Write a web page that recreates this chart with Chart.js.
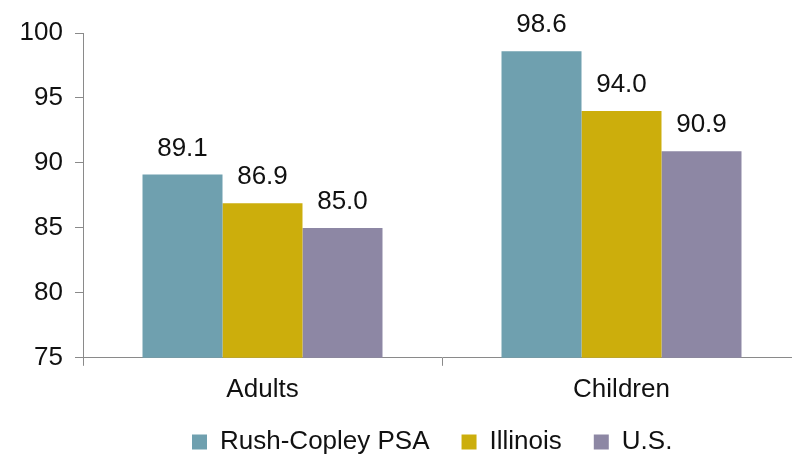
<!DOCTYPE html>
<html>
<head>
<meta charset="utf-8">
<script src="https://cdn.jsdelivr.net/npm/chart.js@4.4.0/dist/chart.umd.min.js"></script>
<style>
  html, body { margin: 0; padding: 0; background: #fff; overflow: hidden; }
  #wrap { position: relative; width: 810px; height: 455px; }
</style>
</head>
<body>
<div id="wrap"><canvas id="c"></canvas></div>
<script>
const categories = ['Adults', 'Children'];
const seriesNames = ['Rush-Copley PSA', 'Illinois', 'U.S.'];
const rushCopley = [89.1, 98.6];
const illinois = [86.9, 94.0];
const us = [85.0, 90.9];
const yTicks = [75, 80, 85, 90, 95, 100];

const colors = ['#6FA0AF', '#CCAE0C', '#8D87A4'];
const FONT = "'Liberation Sans', Arial, sans-serif";
const FS = 26;

const valueLabels = {
  id: 'valueLabels',
  afterDatasetsDraw(chart) {
    const ctx = chart.ctx;
    ctx.save();
    ctx.font = FS + 'px ' + FONT;
    ctx.fillStyle = '#111';
    ctx.textAlign = 'center';
    ctx.textBaseline = 'middle';
    chart.data.datasets.forEach((ds, i) => {
      const meta = chart.getDatasetMeta(i);
      meta.data.forEach((bar, j) => {
        ctx.fillText(ds.data[j].toFixed(1), bar.x, bar.y - 26);
      });
    });
    ctx.restore();
  }
};

const legendShift = {
  id: 'legendShift',
  afterLayout(chart) {
    const lg = chart.legend;
    if (!lg) return;
    const pad = lg.options.labels.padding;
    const w = lg.right - lg.left;
    lg.left = 192 - pad;
    lg.right = lg.left + w;
    lg.top -= 16;
    lg.bottom -= 16;
  }
};

new Chart(document.getElementById('c'), {
  type: 'bar',
  data: {
    labels: categories,
    datasets: [
      { label: seriesNames[0], data: rushCopley, backgroundColor: colors[0] },
      { label: seriesNames[1], data: illinois, backgroundColor: colors[1] },
      { label: seriesNames[2], data: us, backgroundColor: colors[2] }
    ]
  },
  options: {
    responsive: true,
    maintainAspectRatio: false,
    animation: false,
    devicePixelRatio: 1,
    layout: { padding: { top: 33, right: 9, bottom: -26, left: 0 } },
    datasets: { bar: { categoryPercentage: 0.6685, barPercentage: 1.0, borderWidth: 0 } },
    scales: {
      x: {
        grid: { display: true, drawOnChartArea: false, tickLength: 8, color: '#8a8a8a', offset: true },
        border: { display: true, color: '#8a8a8a', width: 1 },
        ticks: { color: '#111', font: { family: FONT, size: FS }, padding: 8 }
      },
      y: {
        min: 75,
        max: 100,
        afterFit(scale) { scale.width = 83; },
        afterBuildTicks(scale) { scale.ticks = yTicks.map(v => ({ value: v })); },
        grid: { display: true, drawOnChartArea: false, tickLength: 8, color: '#8a8a8a' },
        border: { display: true, color: '#8a8a8a', width: 1 },
        ticks: { color: '#111', font: { family: FONT, size: FS }, padding: 12 }
      }
    },
    plugins: {
      legend: {
        position: 'bottom',
        align: 'start',
        labels: {
          boxWidth: 15,
          boxHeight: 15,
          padding: 32,
          color: '#111',
          font: { family: FONT, size: FS }
        }
      },
      tooltip: { enabled: false }
    }
  },
  plugins: [valueLabels, legendShift]
});
</script>
</body>
</html>
